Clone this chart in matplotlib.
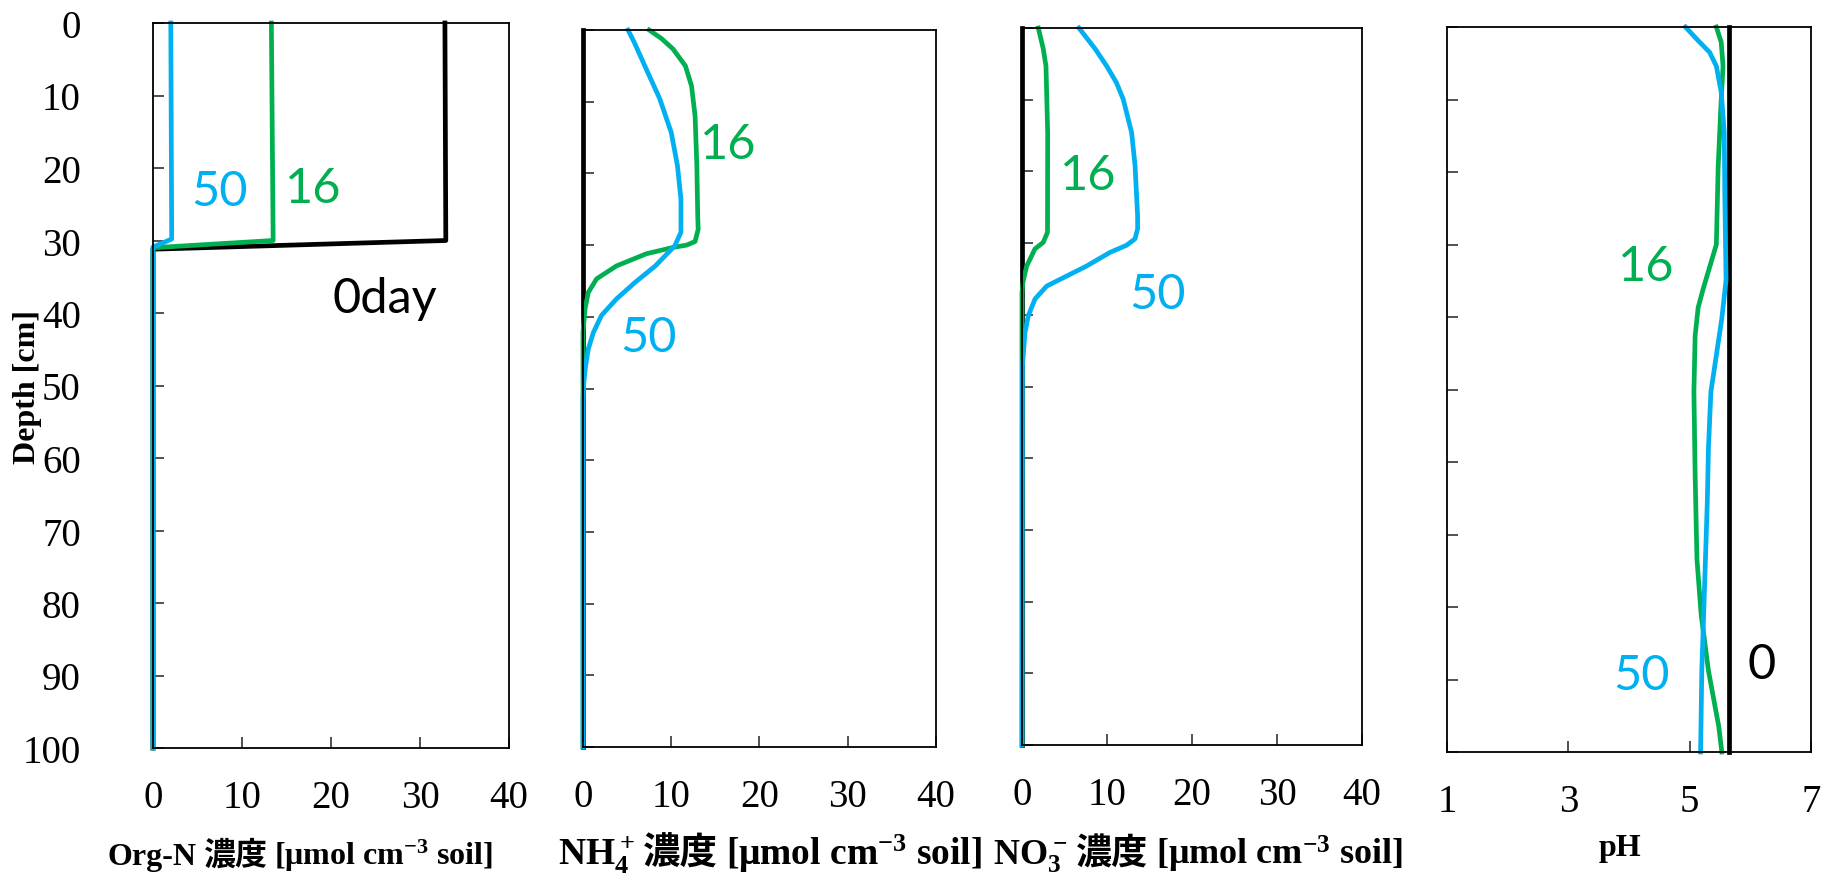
import matplotlib
matplotlib.use('Agg')
import matplotlib.pyplot as plt

plt.rcParams['font.family'] = ['Liberation Serif']
plt.rcParams['mathtext.fontset'] = 'custom'
plt.rcParams['mathtext.rm'] = 'Liberation Serif'
plt.rcParams['mathtext.bf'] = 'Liberation Serif:bold'
plt.rcParams['mathtext.default'] = 'bf'

BLUE = '#00B0F0'
GREEN = '#00B050'
BLACK = '#000000'
SERIF = 'Liberation Serif'
CJK = 'Noto Sans CJK JP'
SANS = 'Lato'

# ---- Org-N (umol cm-3 soil) ----
org_d0 = [0, 30.0, 31.2, 100]
org_0 = [32.8, 32.9, 0, 0]
org_d16 = [0, 30.0, 31.0, 100]
org_16 = [13.3, 13.5, 0, 0]
org_d50 = [0, 29.8, 30.9, 100]
org_50 = [2.0, 2.1, 0, 0]

# ---- NH4+ ----
nh4_d0 = [0, 100]
nh4_0 = [0, 0]
nh4_d16 = [0, 1.2, 2.65, 5.0, 7.8, 12.0, 18.9, 25.9, 27.8, 29.5, 30.0, 30.3, 31.2, 32.9,
           34.7, 36.6, 38.9, 42.1, 100]
nh4_16 = [7.5, 8.9, 10.2, 11.6, 12.3, 12.7, 12.9, 13.0, 13.05, 12.7, 11.75, 10.3, 7.2, 3.8,
          1.55, 0.6, 0.23, 0, 0]
nh4_d50 = [0, 1.7, 5.0, 9.6, 14.3, 18.9, 23.6, 28.2, 30.1, 32.9, 35.2, 37.5, 39.8, 42.2,
           44.5, 46.8, 49.1, 51.5, 100]
nh4_50 = [5.1, 5.8, 7.0, 8.7, 10.0, 10.7, 11.1, 11.1, 10.4, 8.2, 5.9, 3.8, 2.1, 1.17,
          0.6, 0.3, 0.1, 0, 0]

# ---- NO3- ----
no3_d0 = [0, 100]
no3_0 = [0, 0]
no3_d16 = [0, 2.9, 5.3, 14.6, 28.5, 29.9, 30.8, 33.2, 35.5, 37.0, 100]
no3_16 = [1.92, 2.5, 2.82, 3.02, 3.0, 2.5, 1.53, 0.55, 0.1, 0, 0]
no3_d50 = [0, 2.9, 5.3, 7.6, 9.9, 14.6, 19.2, 26.2, 28.0, 29.4, 30.3, 31.3, 33.2, 34.6,
           36.0, 37.8, 40.1, 42.5, 47.1, 100]
no3_50 = [6.7, 8.6, 9.96, 11.1, 11.9, 12.9, 13.3, 13.6, 13.6, 13.3, 12.3, 10.35, 7.6, 5.25,
          2.9, 1.53, 0.75, 0.35, 0.05, 0]

# ---- pH ----
ph_d0 = [0, 100]
ph_0 = [5.65, 5.65]
ph_d16 = [0, 2.1, 5.4, 10, 19.2, 30, 36.2, 38.7, 42.6, 50.3, 61.8, 73.4, 81.1, 88.8, 96.5, 100]
ph_16 = [5.44, 5.52, 5.55, 5.52, 5.47, 5.44, 5.22, 5.14, 5.09, 5.07, 5.09, 5.12, 5.19, 5.31,
         5.48, 5.53]
ph_d50 = [0, 1.7, 3.5, 5.4, 9.0, 14.5, 23.7, 34.9, 40.2, 46.4, 50.3, 58, 65.7, 73.4, 81.1,
          88.8, 100]
ph_50 = [4.93, 5.12, 5.33, 5.44, 5.52, 5.57, 5.58, 5.60, 5.53, 5.42, 5.35, 5.31, 5.29, 5.26,
         5.23, 5.20, 5.18]

panels = [
    dict(series=[(org_d0, org_0, BLACK), (org_d16, org_16, GREEN), (org_d50, org_50, BLUE)],
         xlim=(0, 40), xticks=[0, 10, 20, 30, 40],
         notes=[('50', 7.5, 23.2, BLUE), ('16', 18.0, 22.8, GREEN), ('0day', 26.1, 38, BLACK)]),
    dict(series=[(nh4_d0, nh4_0, BLACK), (nh4_d16, nh4_16, GREEN), (nh4_d50, nh4_50, BLUE)],
         xlim=(0, 40), xticks=[0, 10, 20, 30, 40],
         notes=[('16', 16.5, 15.9, GREEN), ('50', 7.4, 42.8, BLUE)]),
    dict(series=[(no3_d0, no3_0, BLACK), (no3_d16, no3_16, GREEN), (no3_d50, no3_50, BLUE)],
         xlim=(0, 40), xticks=[0, 10, 20, 30, 40],
         notes=[('16', 7.8, 20.5, GREEN), ('50', 15.9, 37.1, BLUE)]),
    dict(series=[(ph_d0, ph_0, BLACK), (ph_d16, ph_16, GREEN), (ph_d50, ph_50, BLUE)],
         xlim=(1, 7), xticks=[1, 3, 5, 7],
         notes=[('16', 4.28, 33, GREEN), ('50', 4.2, 89.4, BLUE), ('0', 6.18, 87.9, BLACK)]),
]

W, H = 1831, 878
boxes = [(153, 24, 509, 749), (583, 31, 936, 748), (1022, 29, 1362, 746), (1447, 28, 1811, 753)]

fig = plt.figure(figsize=(W / 100, H / 100), dpi=100)

for i, (p, (l, t, r, b)) in enumerate(zip(panels, boxes)):
    ax = fig.add_axes([l / W, 1 - b / H, (r - l) / W, (b - t) / H])
    for d, v, c in p['series']:
        ax.plot(v, d, color=c, lw=3.4, solid_joinstyle='round', clip_on=False)
    for s, x, y, c in p['notes']:
        ax.text(x, y, s, color=c, fontsize=35, family=SANS, ha='center', va='center')
    ax.set_xlim(*p['xlim'])
    ax.set_xticks(p['xticks'])
    ax.set_ylim(100, 0)
    ax.set_yticks(range(0, 101, 10))
    ax.tick_params(direction='in', length=8, width=1.2, color='#333333', labelsize=28)
    ax.tick_params(axis='x', pad=22)
    ax.tick_params(axis='y', pad=52, labelleft=(i == 0))
    for sp in ax.spines.values():
        sp.set_linewidth(1.3)
        sp.set_color('black')

fig.text(28 / W, 1 - 387 / H, 'Depth [cm]', rotation=90, fontsize=23, weight='bold',
         ha='center', va='center')

renderer = fig.canvas.get_renderer()


def label_parts(xc, base_y, parts, size):
    items = [fig.text(0, 1 - base_y / H, s, fontsize=size, family=fam, weight='bold',
                      ha='left', va='baseline') for s, fam in parts]
    widths = [it.get_window_extent(renderer).width for it in items]
    gap = 0.22 * size * 100 / 72
    x = xc - (sum(widths) + gap * (len(items) - 1)) / 2
    for it, w in zip(items, widths):
        it.set_x(x / W)
        x += w + gap


unit = '[μmol cm$^{-3}$ soil]'
label_parts(300, 865, [('Org-N', SERIF), ('濃度', CJK), (unit, SERIF)], 23)
label_parts(770, 865, [('NH$_4^+$', SERIF), ('濃度', CJK), (unit, SERIF)], 27)
label_parts(1198, 865, [('NO$_3^-$', SERIF), ('濃度', CJK), (unit, SERIF)], 26)
label_parts(1620, 856, [('pH', SERIF)], 23)

fig.savefig('out.png')
